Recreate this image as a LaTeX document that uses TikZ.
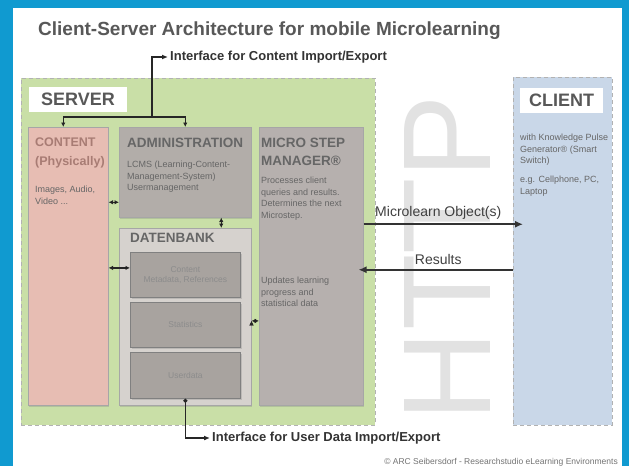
\documentclass[tikz,border=0pt]{standalone}
\usepackage{fontspec}
\setmainfont{Liberation Sans}
\usetikzlibrary{arrows.meta,shadows}
\definecolor{frameblue}{RGB}{16,154,208}
\definecolor{servergreen}{RGB}{201,223,167}
\definecolor{clientblue}{RGB}{201,215,232}
\definecolor{contentrose}{RGB}{231,189,179}
\definecolor{contenttext}{RGB}{168,124,116}
\definecolor{admingray}{RGB}{178,173,169}
\definecolor{dbgray}{RGB}{214,210,206}
\definecolor{subgray}{RGB}{168,163,159}
\definecolor{msmgray}{RGB}{182,176,174}
\definecolor{textgray}{RGB}{88,88,88}
\definecolor{httpgray}{RGB}{226,226,226}

\begin{document}
\begin{tikzpicture}[x=1pt,y=-1pt]
	\tikzstyle{box}=[draw=black!35,line width=0.5pt,anchor=north west,inner sep=0pt,drop shadow={shadow xshift=1.2pt,shadow yshift=-1.5pt,opacity=0.3}]
	\tikzstyle{sub}=[box,fill=subgray,draw=black!50,line width=0.8pt,minimum width=110,text=black!45,font=\fontsize{8.5}{10}\selectfont,align=center]
	\tikzstyle{area}=[draw=black!30,line width=0.8pt,dash pattern=on 4pt off 3pt,anchor=north west,inner sep=0pt]
	\tikzstyle{tag}=[fill=white,inner sep=0pt,minimum height=25,font=\fontsize{18}{20}\selectfont\bfseries,text=textgray]
	\tikzstyle{head}=[anchor=north west,inner sep=0pt,align=left,font=\fontsize{13.5}{18}\selectfont\bfseries,text=black!60]
	\tikzstyle{small}=[anchor=north west,inner sep=0pt,align=left,font=\fontsize{9}{11.5}\selectfont,text=black!60]
	\tikzstyle{link}=[line width=1.2pt,draw=black!85,{Latex[length=4.5pt,width=4.5pt]}-{Latex[length=4.5pt,width=4.5pt]}]
	\tikzstyle{flow}=[line width=2pt,draw=black!80,-{Latex[length=8pt,width=7pt]}]
	\tikzstyle{port}=[line width=1.2pt,draw=black!85,{Circle[length=4pt]}-{Latex[length=6pt,width=5pt]}]
	\tikzstyle{note}=[anchor=west,inner sep=0pt,font=\fontsize{13}{15}\selectfont\bfseries,text=black!80]
	\tikzstyle{lbl}=[inner sep=0pt,font=\fontsize{14}{16}\selectfont,text=black!75]

	\useasboundingbox (0,0) rectangle (629,466);
	\fill[frameblue] (0,0) rectangle (629,466);
	\fill[white] (13,8) rectangle (622,466);

	\node[anchor=base west,inner sep=0pt,font=\fontsize{19}{22}\selectfont\bfseries,text=textgray] (title) at (38,35) {Client-Server Architecture for mobile Microlearning};
	\node[rotate=90,inner sep=0pt,font=\fontsize{125}{125}\selectfont,text=httpgray] (http) at (447,258) {HTTP};

	\node[area,fill=servergreen,minimum width=354,minimum height=347] (server) at (21,78) {};
	\node[area,fill=clientblue,minimum width=99,minimum height=348] (client) at (513,77) {};
	\node[tag,minimum width=98] (servertag) at (78,99.5) {SERVER};
	\node[tag,minimum width=83] (clienttag) at (561.5,100.5) {CLIENT};

	\node[box,fill=contentrose,minimum width=80,minimum height=278] (content) at (28,127) {};
	\node[box,fill=admingray,minimum width=132,minimum height=90] (admin) at (119,127) {};
	\node[box,fill=dbgray,minimum width=132,minimum height=177] (db) at (119,228) {};
	\node[box,fill=msmgray,minimum width=104,minimum height=278] (msm) at (259,127) {};
	\node[sub,minimum height=45] (csub) at (130,252) {Content\\Metadata, References};
	\node[sub,minimum height=45] (stats) at (130,302) {Statistics};
	\node[sub,minimum height=46] (user) at (130,352) {Userdata};

	\node[head,text=contenttext,font=\fontsize{12.5}{19}\selectfont\bfseries] (contenthd) at (35,138) {CONTENT\\(Physically)};
	\node[small] (contentsm) at (35,186) {Images, Audio,\\Video ...};
	\node[head] (adminhd) at (127,138) {ADMINISTRATION};
	\node[small] (adminsm) at (127,161) {LCMS (Learning-Content-\\Management-System)\\Usermanagement};
	\node[head] (dbhd) at (130,233) {DATENBANK};
	\node[head] (msmhd) at (261,138) {MICRO STEP\\MANAGER®};
	\node[small] (msmsm) at (261,177) {Processes client\\queries and results.\\Determines the next\\Microstep.};
	\node[small] (msmsm2) at (261,277) {Updates learning\\progress and\\statistical data};
	\node[small] (clientsm) at (520,134) {with Knowledge Pulse\\Generator® (Smart\\Switch)};
	\node[small] (clientsm2) at (520,176) {e.g. Cellphone, PC,\\Laptop};

	\node[note] (cienote) at (170,57) {Interface for Content Import/Export};
	\node[note] (uienote) at (212,438) {Interface for User Data Import/Export};
	\node[anchor=base east,inner sep=0pt,font=\fontsize{8.5}{10}\selectfont,text=black!55] (copy) at (618,464) {© ARC Seibersdorf - Researchstudio eLearning Environments};

	\coordinate (cimp) at (152,117);
	\coordinate (ca) at ([yshift=-30pt]admin.west);
	\coordinate (cs) at ([yshift=7pt]csub.west);
	\coordinate (ad) at ([xshift=36pt]admin.south);
	\coordinate (ds) at ([yshift=4pt]stats.east);
	\coordinate (mo) at ([yshift=42pt]msm.east);
	\coordinate (rs) at ([yshift=-3.5pt]msm.east);

	\draw[link] ([xshift=-5pt]content.north) |- (cimp) -| (admin.north);
	\draw[line width=1.2pt,draw=black!85,-{Latex[length=6pt,width=5pt]}] (cimp) |- ([xshift=-2pt]cienote.west);
	\draw[port] (user.south) |- ([xshift=-2pt]uienote.west);

	\path[link]
	(ca -| content.east) edge (ca)
	(cs -| content.east) edge (cs)
	(ad) edge (ad |- db.north)
	(ds -| db.east) edge (ds -| msm.west)
	;

	\draw[flow,shorten >=-10pt] (mo) -- node[lbl,above=4pt] (molbl) {Microlearn Object(s)} (mo -| client.west);
	\draw[flow,shorten >=-5pt] (rs -| client.west) -- node[lbl,above=4pt] (reslbl) {Results} (rs);
\end{tikzpicture}
\end{document}
